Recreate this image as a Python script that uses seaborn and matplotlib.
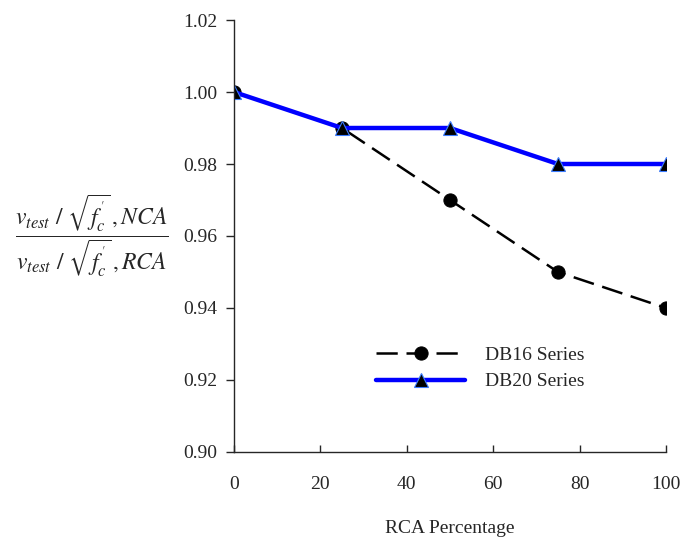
import pandas as pd
import numpy as np
import matplotlib
matplotlib.use("Agg")
import matplotlib.pyplot as plt
import seaborn as sns

rca_pct = [0, 25, 50, 75, 100]
db16 = [1.00, 0.99, 0.97, 0.95, 0.94]
db20 = [1.00, 0.99, 0.99, 0.98, 0.98]
y_ticks = [0.90, 0.92, 0.94, 0.96, 0.98, 1.00, 1.02]
x_ticks = [0, 20, 40, 60, 80, 100]

sns.set_style("ticks")
plt.rcParams['font.family'] = ['Liberation Serif', 'DejaVu Serif']
plt.rcParams['mathtext.fontset'] = 'stix'

df = pd.DataFrame({'RCA': rca_pct + rca_pct,
                   'ratio': db16 + db20,
                   'series': ['DB16 Series'] * len(db16) + ['DB20 Series'] * len(db20)})

fig = plt.figure(figsize=(6.83, 5.38), dpi=100)
ax = fig.add_axes([0.3426, 0.1599, 0.975 - 0.3426, 0.9628 - 0.1599])

d16 = df[df['series'] == 'DB16 Series']
d20 = df[df['series'] == 'DB20 Series']
sns.lineplot(data=d16, x='RCA', y='ratio', ax=ax, color='black', linewidth=1.8,
             linestyle=(0, (8.5, 3.5)), marker='o', markersize=9.5,
             markeredgecolor='black', markerfacecolor='black', label='DB16 Series')
sns.lineplot(data=d20, x='RCA', y='ratio', ax=ax, color='#0000ff', linewidth=3.2,
             marker='^', markersize=9.5, markerfacecolor='black',
             markeredgecolor='#3a7bff', markeredgewidth=0.8, label='DB20 Series')

ax.set_xlim(0, 100)
ax.set_ylim(0.90, 1.02)
ax.set_xticks(x_ticks)
ax.set_yticks(y_ticks)
ax.set_yticklabels([f'{v:.2f}' for v in y_ticks])
ax.tick_params(axis='x', direction='in', length=5, labelsize=14, pad=17, width=1)
ax.tick_params(axis='y', direction='out', length=6, labelsize=14, pad=6, width=1)
for s in ['top', 'right']:
    ax.spines[s].set_visible(False)
for s in ['left', 'bottom']:
    ax.spines[s].set_linewidth(1)

ax.set_xlabel('RCA Percentage', fontsize=14, labelpad=20)
ax.set_ylabel('')
fig.text(0.022, 0.561,
         r"$\dfrac{v_{test}\ /\ \sqrt{f_c^{'}}\,,NCA}{v_{test}\ /\ \sqrt{f_c^{'}}\,,RCA}$",
         fontsize=17, ha='left', va='center')

ax.legend(loc='upper left', bbox_to_anchor=(0.288, 0.285), frameon=False,
          handlelength=4.6, fontsize=14, labelspacing=0.45, handletextpad=1.0)

fig.savefig('out.png', dpi=100)
